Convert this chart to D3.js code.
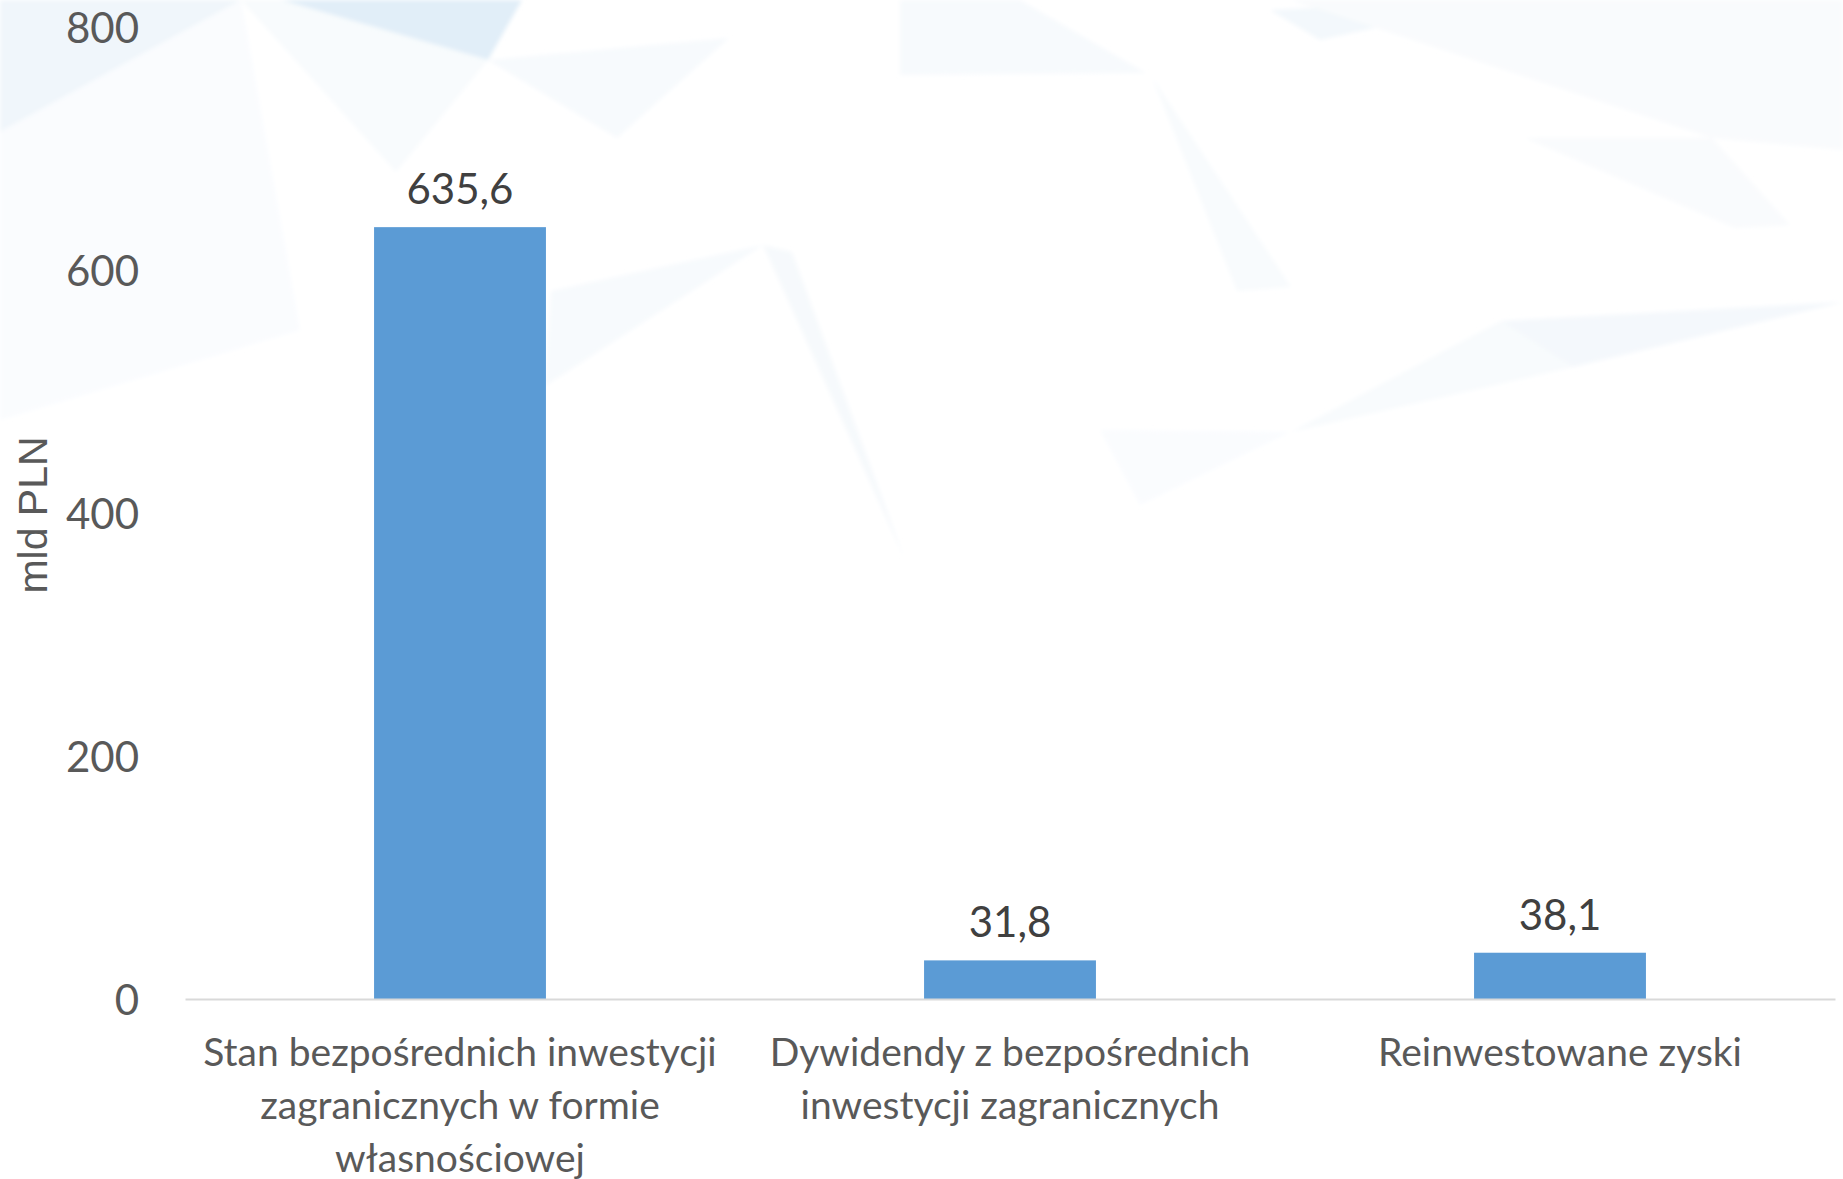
<!DOCTYPE html>
<html>
<head>
<meta charset="utf-8">
<script src="https://cdn.jsdelivr.net/npm/d3@7"></script>
<style>
  html, body { margin: 0; padding: 0; background: #ffffff; overflow: hidden; }
  svg { display: block; }
</style>
</head>
<body>
<svg id="chart" width="1843" height="1179"></svg>
<script>
// Chart data
const categories = [
  "Stan bezpośrednich inwestycji zagranicznych w formie własnościowej",
  "Dywidendy z bezpośrednich inwestycji zagranicznych",
  "Reinwestowane zyski"
];
const categoryLines = [
  ["Stan bezpośrednich inwestycji", "zagranicznych w formie", "własnościowej"],
  ["Dywidendy z bezpośrednich", "inwestycji zagranicznych"],
  ["Reinwestowane zyski"]
];
const values = [635.6, 31.8, 38.1];
const valueLabels = ["635,6", "31,8", "38,1"];
const yTicks = [0, 200, 400, 600, 800];
const yTickLabels = ["0", "200", "400", "600", "800"];
const yTitle = "mld PLN";

// Decorative faceted backdrop (very pale blue shards)
const shards = [
  { pts: [[0,0],[241,0],[0,132]], fill: "#f0f6fb" },
  { pts: [[281,0],[522,0],[488,60]], fill: "#e1eef8" },
  { pts: [[241,0],[281,0],[488,60],[396,172]], fill: "#f8fbfd" },
  { pts: [[488,60],[729,38],[617,138]], fill: "#f7fafd" },
  { pts: [[0,132],[241,0],[300,330],[0,420]], fill: "#fafcfe" },
  { pts: [[763,245],[551,291],[545,386]], fill: "#f7fafd" },
  { pts: [[763,245],[792,252],[905,560]], fill: "#f6f9fc" },
  { pts: [[900,0],[1020,0],[1146,73],[900,75]], fill: "#f7fafd" },
  { pts: [[1152,77],[1237,291],[1291,287]], fill: "#f8fbfd" },
  { pts: [[1270,10],[1501,0],[1320,40]], fill: "#f3f8fc" },
  { pts: [[1291,0],[1843,0],[1843,150],[1712,138]], fill: "#f9fbfd" },
  { pts: [[1525,138],[1712,138],[1790,225],[1735,228]], fill: "#f9fbfd" },
  { pts: [[1501,321],[1843,302],[1573,367]], fill: "#f4f8fc" },
  { pts: [[1291,432],[1501,321],[1573,367]], fill: "#f8fbfd" },
  { pts: [[1100,430],[1290,432],[1140,505]], fill: "#fafcfe" }
];

const W = 1843, H = 1179;
const svg = d3.select("#chart");

const defs = svg.append("defs");
defs.append("filter").attr("id", "soft")
  .append("feGaussianBlur").attr("stdDeviation", 2);

svg.append("rect").attr("width", W).attr("height", H).attr("fill", "#ffffff");

svg.append("g").attr("filter", "url(#soft)")
  .selectAll("polygon").data(shards).join("polygon")
  .attr("points", d => d.pts.map(p => p.join(",")).join(" "))
  .attr("fill", d => d.fill);

// Scales
const x = d3.scaleBand()
  .domain(categories)
  .range([185, 1835])
  .paddingInner(0.6875)
  .paddingOuter(0.34375);

const y = d3.scaleLinear()
  .domain([0, 800])
  .range([999, 27.5]);

const labelFont = "Lato, 'Noto Sans', sans-serif";

// Y axis (labels only)
const yAxis = svg.append("g")
  .attr("transform", "translate(185,0)")
  .call(d3.axisLeft(y).tickValues(yTicks).tickSize(0).tickPadding(46)
    .tickFormat((d, i) => yTickLabels[i]));
yAxis.select(".domain").remove();
yAxis.selectAll("text")
  .attr("font-family", labelFont)
  .attr("font-size", 42)
  .attr("fill", "#595959")
  .attr("dy", "0.36em");

// Bars
svg.append("g").selectAll("rect").data(values).join("rect")
  .attr("x", (d, i) => x(categories[i]))
  .attr("y", d => y(d))
  .attr("width", x.bandwidth())
  .attr("height", d => y(0) - y(d))
  .attr("fill", "#5b9bd5");

// X axis with baseline
const xAxis = svg.append("g")
  .attr("transform", `translate(0,${y(0)})`)
  .call(d3.axisBottom(x).tickSize(0).tickSizeOuter(0).tickFormat(""));
xAxis.select(".domain").attr("stroke", "#d9d9d9").attr("stroke-width", 2);

xAxis.selectAll(".tick").each(function(d) {
  const i = categories.indexOf(d);
  const t = d3.select(this).select("text")
    .attr("y", 0).attr("dy", null)
    .attr("font-family", labelFont)
    .attr("font-size", 39)
    .attr("fill", "#595959")
    .attr("text-anchor", "middle");
  t.selectAll("tspan").data(categoryLines[i]).join("tspan")
    .attr("x", 0)
    .attr("y", (l, k) => 67 + k * 53)
    .text(l => l);
});

// Value labels
svg.append("g").selectAll("text").data(values).join("text")
  .attr("x", (d, i) => x(categories[i]) + x.bandwidth() / 2)
  .attr("y", d => y(d) - 23)
  .attr("text-anchor", "middle")
  .attr("font-family", labelFont)
  .attr("font-size", 42)
  .attr("fill", "#404040")
  .text((d, i) => valueLabels[i]);

// Y axis title
svg.append("text")
  .attr("transform", "translate(47,515) rotate(-90)")
  .attr("text-anchor", "middle")
  .attr("font-family", "'Liberation Sans', Arial, sans-serif")
  .attr("font-size", 41)
  .attr("fill", "#595959")
  .text(yTitle);
</script>
</body>
</html>
